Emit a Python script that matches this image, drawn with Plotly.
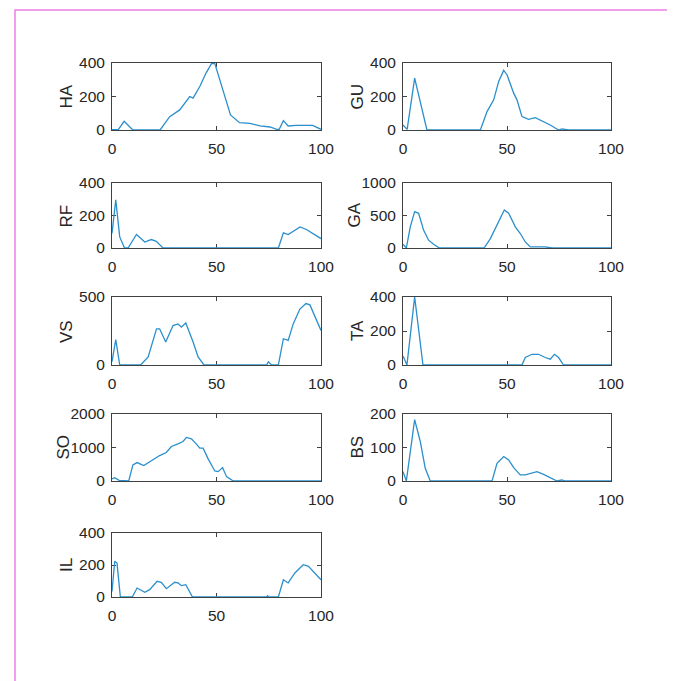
import plotly.graph_objects as go

# ---- data (x in % of cycle, y values) ----
HA_x = [0, 3, 5.8, 10, 23, 27.6, 32.4, 37.2, 38.8, 42, 45, 47.6, 49.2, 53, 56.7, 61, 66, 70.8, 75.6, 78.8, 80, 82, 84.3, 88, 96, 100]
HA_y = [2, 2, 52, 0, 0, 80, 120, 200, 190, 260, 340, 396, 396, 240, 90, 44, 40, 24, 18, 4, 4, 56, 24, 28, 28, 4]

GU_x = [0, 2, 5.6, 11.5, 37.2, 40.4, 43.6, 46, 48.4, 50, 53.2, 54.8, 57.2, 60.4, 63.6, 66.8, 70.8, 74.8, 76.4, 79.6, 100]
GU_y = [30, 4, 310, 0, 0, 110, 180, 290, 356, 330, 220, 180, 80, 64, 74, 56, 30, 0, 6, 0, 0]

RF_x = [0, 1.8, 3.7, 6, 7.7, 11.7, 15.7, 18.8, 21.2, 24.4, 79.6, 82, 84.3, 90, 93, 96.3, 100]
RF_y = [90, 296, 68, 0, 0, 83, 37, 52, 41, 0, 0, 93, 83, 130, 114, 90, 58]

GA_x = [0, 1.6, 3.5, 5.6, 7.5, 9.9, 12.3, 14.7, 17.5, 39, 42, 45.2, 48.7, 50.8, 54, 56.4, 58.8, 61.2, 68.4, 71.6, 100]
GA_y = [57, 0, 326, 560, 534, 275, 120, 57, 0, 0, 145, 352, 585, 534, 326, 223, 93, 16, 16, 0, 0]

VS_x = [0, 1.8, 3.7, 13.7, 17.3, 21.3, 22.8, 25.7, 29.2, 31.6, 33.2, 35.3, 38.8, 41.2, 44, 74, 74.8, 76.4, 79.6, 82, 84.3, 86.7, 89.9, 92.8, 94.7, 97.1, 100]
VS_y = [24, 186, 0, 0, 60, 266, 266, 169, 290, 302, 278, 309, 169, 60, 0, 0, 24, 0, 0, 193, 181, 302, 411, 452, 442, 362, 254]

TA_x = [0, 1.9, 5.6, 9.6, 57.2, 58.8, 62, 65.2, 68.4, 70.8, 72.8, 74.8, 77.2, 100]
TA_y = [53, 0, 400, 0, 0, 44, 63, 63, 44, 34, 63, 44, 0, 0]

SO_x = [0, 1.3, 3.4, 8, 10, 12, 15.2, 18.8, 22.8, 26, 28.4, 31.6, 34, 35.6, 38, 40.4, 42, 43.6, 46, 49.2, 50.8, 52.9, 54.8, 58, 100]
SO_y = [60, 100, 20, 0, 480, 550, 460, 600, 760, 850, 1030, 1110, 1180, 1300, 1260, 1100, 980, 980, 660, 300, 280, 400, 130, 0, 0]

BS_x = [0, 1.6, 5.6, 8.3, 10.7, 13.1, 42.8, 45.2, 48.4, 50.8, 53.2, 56.4, 58.8, 61.2, 64.4, 67.6, 71.6, 74, 76.4, 78, 100]
BS_y = [28, 0, 183, 118, 38, 0, 0, 53, 73, 63, 40, 18, 18, 23, 28, 20, 8, 0, 3, 0, 0]

IL_x = [0, 1.3, 2.4, 4, 9.7, 12, 15.7, 18, 21.6, 23.6, 26, 30, 31.6, 33.2, 35.3, 38.5, 74, 74.4, 75, 79.6, 82, 84.3, 87.5, 91.5, 94, 97.1, 100]
IL_y = [35, 223, 212, 0, 0, 56, 29, 46, 98, 92, 52, 92, 88, 71, 77, 0, 0, 8, 0, 0, 108, 88, 150, 202, 192, 150, 108]

x_ticks = [0, 50, 100]

# name, x, y, y range max, y ticks, column (0 left / 1 right), row
panels = [
    ("HA", HA_x, HA_y, 400, [0, 200, 400], 0, 0),
    ("GU", GU_x, GU_y, 400, [0, 200, 400], 1, 0),
    ("RF", RF_x, RF_y, 400, [0, 200, 400], 0, 1),
    ("GA", GA_x, GA_y, 1000, [0, 500, 1000], 1, 1),
    ("VS", VS_x, VS_y, 500, [0, 500], 0, 2),
    ("TA", TA_x, TA_y, 400, [0, 200, 400], 1, 2),
    ("SO", SO_x, SO_y, 2000, [0, 1000, 2000], 0, 3),
    ("BS", BS_x, BS_y, 200, [0, 100, 200], 1, 3),
    ("IL", IL_x, IL_y, 400, [0, 200, 400], 0, 4),
]

W, H = 675, 681
OFF = 8  # page body margin
col_px = [(112, 321), (403, 611)]
row_px = [(63, 130), (183, 248), (297, 365), (414, 481), (533, 597)]
label_cx = [66, 357]

FONT = "Liberation Sans, Arial, sans-serif"
AX_COLOR = "#404040"
TXT = "#262626"
LINE_COLOR = "#2a8fcc"

fig = go.Figure()
layout = dict(
    width=W, height=H,
    margin=dict(l=0, r=0, t=0, b=0, autoexpand=False),
    paper_bgcolor="white", plot_bgcolor="white",
    showlegend=False,
    font=dict(family=FONT, size=15, color=TXT),
)
annotations = []

for i, (name, xs, ys, ymax, yt, c, r) in enumerate(panels):
    n = "" if i == 0 else str(i + 1)
    fig.add_trace(go.Scatter(
        x=xs, y=ys, mode="lines",
        line=dict(color=LINE_COLOR, width=1.3),
        xaxis="x" + n, yaxis="y" + n, hoverinfo="skip", cliponaxis=False,
    ))
    x0, x1 = col_px[c]
    y0, y1 = row_px[r]
    x0, x1, y0, y1 = x0 - OFF, x1 - OFF, y0 - OFF, y1 - OFF
    common = dict(
        showgrid=False, zeroline=False, showline=True, linecolor=AX_COLOR, linewidth=1,
        mirror="ticks", ticks="inside", ticklen=4, tickcolor=AX_COLOR, tickwidth=1,
        tickfont=dict(family=FONT, size=15.5, color=TXT),
        fixedrange=True, layer="below traces",
    )
    layout["xaxis" + n] = dict(
        domain=[x0 / W, x1 / W], range=[0, 100], tickmode="array", tickvals=x_ticks,
        anchor="y" + n, ticklabelstandoff=4, **common,
    )
    layout["yaxis" + n] = dict(
        domain=[1 - y1 / H, 1 - y0 / H], range=[0, ymax], tickmode="array", tickvals=yt,
        anchor="x" + n, ticklabelstandoff=3, **common,
    )
    cx = label_cx[c] - (3 if ymax >= 1000 else 0)
    annotations.append(dict(
        text=name, textangle=-90, showarrow=False,
        xref="paper", x=(cx - OFF) / W, xanchor="center",
        yref="y" + n + " domain", y=0.5, yanchor="middle",
        font=dict(family=FONT, size=17, color=TXT),
    ))

layout["annotations"] = annotations
layout["shapes"] = [dict(
    type="rect", xref="paper", yref="paper",
    x0=(15 - OFF) / W, x1=(673 - OFF) / W, y0=-0.05, y1=1 - (10 - OFF) / H,
    line=dict(color="#f07fe6", width=1.5), fillcolor="rgba(0,0,0,0)", layer="below",
)]

fig.update_layout(**layout)
fig.write_html("out.html")
